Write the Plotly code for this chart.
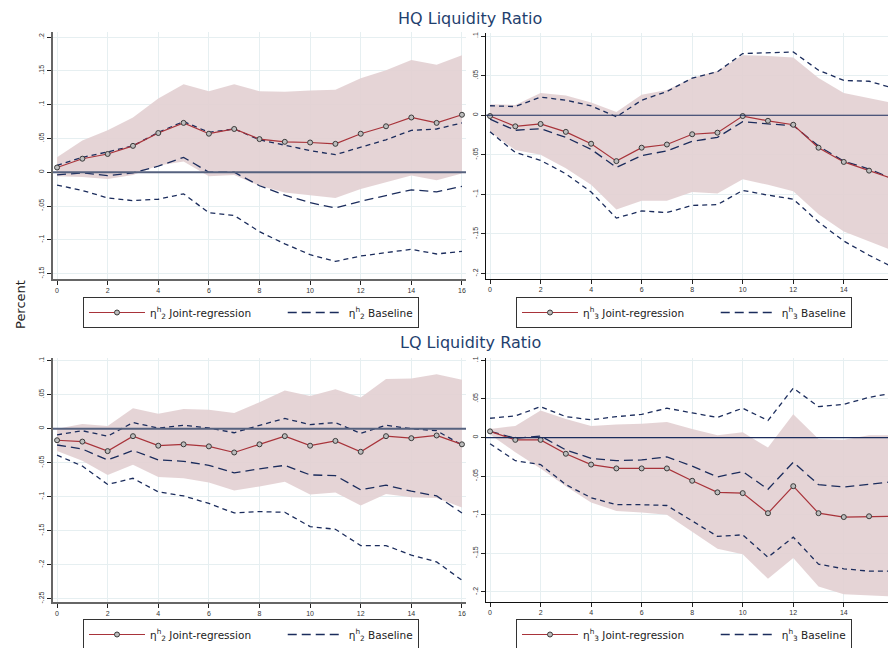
import plotly.graph_objects as go

horizon = list(range(17))
x_ticks = [0, 2, 4, 6, 8, 10, 12, 14, 16]

# ---------------- HQ Liquidity Ratio, eta_2 (top-left)
hq2_joint    = [.007, .020, .027, .039, .058, .073, .057, .064, .049, .045, .044, .042, .057, .068, .081, .073, .085]
hq2_joint_hi = [.022, .047, .062, .081, .109, .130, .120, .130, .120, .119, .121, .122, .139, .151, .166, .159, .173]
hq2_joint_lo = [-.006, -.007, -.010, -.004, .010, .016, -.006, -.004, -.020, -.030, -.034, -.038, -.025, -.015, -.005, -.012, -.002]
hq2_base     = [-.004, -.001, -.005, -.001, .009, .022, .000, .000, -.020, -.034, -.045, -.053, -.043, -.035, -.026, -.029, -.021]
hq2_base_hi  = [.010, .022, .030, .039, .059, .075, .059, .064, .048, .040, .032, .026, .037, .048, .062, .064, .073]
hq2_base_lo  = [-.019, -.027, -.038, -.042, -.040, -.032, -.060, -.064, -.088, -.106, -.122, -.132, -.124, -.119, -.114, -.121, -.117]

# ---------------- HQ Liquidity Ratio, eta_3 (top-right)
hq3_joint    = [-.001, -.014, -.011, -.021, -.036, -.058, -.041, -.037, -.024, -.022, -.001, -.007, -.012, -.041, -.059, -.070, -.081]
hq3_joint_hi = [.014, .013, .028, .025, .016, .004, .026, .032, .047, .056, .076, .075, .073, .047, .028, .022, .015]
hq3_joint_lo = [-.021, -.044, -.050, -.067, -.088, -.119, -.108, -.108, -.097, -.099, -.081, -.088, -.096, -.125, -.147, -.159, -.172]
hq3_base     = [-.005, -.019, -.017, -.028, -.043, -.066, -.051, -.045, -.033, -.028, -.008, -.011, -.013, -.039, -.058, -.068, -.081]
hq3_base_hi  = [.012, .011, .023, .019, .012, -.002, .019, .030, .047, .055, .078, .079, .080, .057, .044, .043, .034]
hq3_base_lo  = [-.021, -.047, -.057, -.074, -.097, -.130, -.121, -.123, -.114, -.113, -.095, -.101, -.106, -.135, -.159, -.177, -.193]

# ---------------- LQ Liquidity Ratio, eta_2 (bottom-left)
lq2_joint    = [-.017, -.019, -.033, -.011, -.025, -.023, -.026, -.035, -.023, -.011, -.025, -.018, -.034, -.011, -.014, -.010, -.023]
lq2_joint_hi = [.000, .007, .004, .030, .022, .029, .028, .023, .039, .056, .048, .058, .046, .073, .074, .080, .072]
lq2_joint_lo = [-.033, -.047, -.068, -.053, -.071, -.073, -.079, -.091, -.085, -.078, -.097, -.094, -.113, -.096, -.101, -.102, -.116]
lq2_base     = [-.024, -.030, -.046, -.032, -.046, -.048, -.054, -.065, -.059, -.054, -.068, -.069, -.090, -.083, -.092, -.099, -.124]
lq2_base_hi  = [-.009, -.003, -.011, .009, .001, .005, .001, -.006, .005, .015, .006, .009, -.007, .005, .000, -.003, -.024]
lq2_base_lo  = [-.039, -.055, -.082, -.073, -.093, -.099, -.110, -.124, -.122, -.123, -.144, -.148, -.172, -.172, -.186, -.196, -.223]

# ---------------- LQ Liquidity Ratio, eta_3 (bottom-right)
lq3_joint    = [.008, -.003, -.003, -.021, -.035, -.040, -.040, -.040, -.056, -.071, -.072, -.098, -.063, -.098, -.103, -.102, -.102]
lq3_joint_hi = [.011, .015, .035, .024, .015, .017, .018, .020, .011, .003, .007, -.013, .030, -.002, -.003, .003, .003]
lq3_joint_lo = [.004, -.019, -.040, -.063, -.084, -.095, -.097, -.100, -.122, -.144, -.151, -.183, -.156, -.193, -.203, -.204, -.206]
lq3_base     = [.008, -.001, .002, -.016, -.027, -.030, -.029, -.025, -.037, -.051, -.044, -.067, -.032, -.061, -.064, -.061, -.057]
lq3_base_hi  = [.025, .028, .040, .027, .023, .027, .030, .038, .032, .026, .038, .022, .064, .040, .043, .052, .058]
lq3_base_lo  = [-.008, -.030, -.035, -.061, -.078, -.087, -.087, -.088, -.108, -.128, -.126, -.155, -.129, -.164, -.170, -.173, -.173]

# y ticks per panel
hq2_yticks = [-.15, -.1, -.05, 0, .05, .1, .15, .2]
hq2_ylabels = ["-.15", "-.1", "-.05", "0", ".05", ".1", ".15", ".2"]
eta3_yticks = [-.2, -.15, -.1, -.05, 0, .05, .1]
eta3_ylabels = ["-.2", "-.15", "-.1", "-.05", "0", ".05", ".1"]
lq2_yticks = [-.25, -.2, -.15, -.1, -.05, 0, .05, .1]
lq2_ylabels = ["-.25", "-.2", "-.15", "-.1", "-.05", "0", ".05", ".1"]

RED = "#a8333a"
NAVY = "#1b2c5c"
BAND = "rgba(226,207,210,0.9)"
GRID = "#e6eff1"
NBSP = "\u00a0"

W, H = 888, 648

panels = [
    dict(ax="", data=(hq2_joint, hq2_joint_hi, hq2_joint_lo, hq2_base, hq2_base_hi, hq2_base_lo),
         legend="legend", eta="2", xd=(53, 466), yd=(32, 279), yr=(-.158, .2075),
         yt=hq2_yticks, yl=hq2_ylabels, xr=(-0.16, 16.16), left=True),
    dict(ax="2", data=(hq3_joint, hq3_joint_hi, hq3_joint_lo, hq3_base, hq3_base_hi, hq3_base_lo),
         legend="legend2", eta="3", xd=(486, 888), yd=(33, 279), yr=(-.207, .104),
         yt=eta3_yticks, yl=eta3_ylabels, xr=(-0.16, 15.75), left=False),
    dict(ax="3", data=(lq2_joint, lq2_joint_hi, lq2_joint_lo, lq2_base, lq2_base_hi, lq2_base_lo),
         legend="legend3", eta="2", xd=(53, 466), yd=(358, 602), yr=(-.255, .104),
         yt=lq2_yticks, yl=lq2_ylabels, xr=(-0.16, 16.16), left=True),
    dict(ax="4", data=(lq3_joint, lq3_joint_hi, lq3_joint_lo, lq3_base, lq3_base_hi, lq3_base_lo),
         legend="legend4", eta="3", xd=(486, 888), yd=(358, 602), yr=(-.213, .103),
         yt=eta3_yticks, yl=eta3_ylabels, xr=(-0.16, 15.75), left=False),
]

fig = go.Figure()
layout = dict(
    width=W, height=H, margin=dict(l=0, r=0, t=0, b=0, autoexpand=False),
    paper_bgcolor="white", plot_bgcolor="white",
    font=dict(family="Liberation Sans, Arial, sans-serif", color="#222"),
    showlegend=True, shapes=[], annotations=[],
)

for p in panels:
    xa = "x" + p["ax"]
    ya = "y" + p["ax"]
    joint, jhi, jlo, base, bhi, blo = p["data"]
    fig.add_trace(go.Scatter(x=horizon, y=jhi, mode="lines", line=dict(width=0),
                             hoverinfo="skip", showlegend=False, xaxis=xa, yaxis=ya))
    fig.add_trace(go.Scatter(x=horizon, y=jlo, mode="lines", line=dict(width=0),
                             fill="tonexty", fillcolor=BAND, hoverinfo="skip",
                             showlegend=False, xaxis=xa, yaxis=ya))
    joint_tr = go.Scatter(x=horizon, y=joint, mode="lines+markers",
                          line=dict(color=RED, width=1.2),
                          marker=dict(symbol="circle", size=5, color="#bdbdbd",
                                      line=dict(color="#3a3a3a", width=1)),
                          name="\u03b7<sup>h</sup><sub>" + p["eta"] + "</sub> Joint-regression" + NBSP * 8,
                          legend=p["legend"], legendrank=1, xaxis=xa, yaxis=ya)
    for ci in (bhi, blo):
        fig.add_trace(go.Scatter(x=horizon, y=ci, mode="lines",
                                 line=dict(color=NAVY, width=1.3, dash="5px,4px"),
                                 showlegend=False, xaxis=xa, yaxis=ya))
    fig.add_trace(go.Scatter(x=horizon, y=base, mode="lines",
                             line=dict(color=NAVY, width=1.3, dash="9px,5px"),
                             name="\u03b7<sup>h</sup><sub>" + p["eta"] + "</sub> Baseline",
                             legend=p["legend"], legendrank=2, xaxis=xa, yaxis=ya))
    fig.add_trace(joint_tr)

    axis_col = "#666666" if p["left"] else "#111111"
    axis_w = 1.6 if p["left"] else 1.0
    xkey = "xaxis" + p["ax"]
    ykey = "yaxis" + p["ax"]
    layout[xkey] = dict(
        domain=[p["xd"][0] / W, min(p["xd"][1] / W, 1.0)], anchor=ya, range=list(p["xr"]),
        tickvals=x_ticks, ticktext=[str(v) for v in x_ticks],
        ticks="outside", ticklen=4, tickcolor="#222", tickwidth=1,
        showgrid=True, gridcolor=GRID, gridwidth=1, zeroline=False,
        showline=True, linecolor=axis_col, linewidth=axis_w,
        tickfont=dict(size=7, color="#333"), automargin=False,
    )
    layout[ykey] = dict(
        domain=[1 - p["yd"][1] / H, 1 - p["yd"][0] / H], anchor=xa, range=list(p["yr"]),
        tickvals=p["yt"], ticktext=p["yl"], tickangle=-90,
        ticks="outside", ticklen=4, tickcolor="#222", tickwidth=1,
        showgrid=True, gridcolor=GRID, gridwidth=1, zeroline=False,
        showline=True, linecolor=axis_col, linewidth=axis_w,
        tickfont=dict(size=7, color="#333"), automargin=False,
    )
    zc = "#56627f" if p["left"] else NAVY
    zw = 2 if p["left"] else 1.2
    layout["shapes"].append(dict(type="line", xref=xa + " domain", yref=ya,
                                 x0=0, x1=1, y0=0, y1=0, layer="above",
                                 line=dict(color=zc, width=zw)))
    leg_top = 297 if p["yd"][0] < 100 else 619
    leg_left = 83 if p["left"] else 516
    layout[p["legend"]] = dict(
        orientation="h", x=leg_left / W, y=1 - leg_top / H, xanchor="left", yanchor="top",
        xref="paper", yref="paper",
        bordercolor="#333", borderwidth=1, bgcolor="white",
        font=dict(size=10.5, color="#222", family="DejaVu Sans, sans-serif"), itemwidth=56,
        traceorder="normal",
    )

layout["annotations"] += [
    dict(text="HQ Liquidity Ratio", x=470 / W, y=1 - 18 / H, xref="paper", yref="paper",
         showarrow=False, font=dict(size=16, color="#1f3f6e", family="DejaVu Sans, sans-serif"),
         xanchor="center", yanchor="middle"),
    dict(text="LQ Liquidity Ratio", x=470 / W, y=1 - 342 / H, xref="paper", yref="paper",
         showarrow=False, font=dict(size=16, color="#1f3f6e", family="DejaVu Sans, sans-serif"),
         xanchor="center", yanchor="middle"),
    dict(text="Percent", x=20 / W, y=1 - 305 / H, xref="paper", yref="paper", textangle=-90,
         showarrow=False, font=dict(size=13, color="#222", family="DejaVu Sans, sans-serif"),
         xanchor="center", yanchor="middle"),
]

fig.update_layout(**layout)
fig.write_html("out.html", config={"displayModeBar": False},
               post_script="document.body.style.margin='0';")
